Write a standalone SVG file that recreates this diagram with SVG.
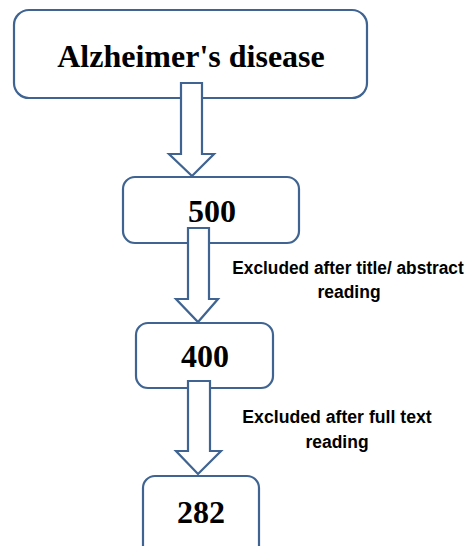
<svg xmlns="http://www.w3.org/2000/svg" width="472" height="546" viewBox="0 0 472 546">
<style>
.box{fill:#ffffff;stroke:#3f6491;stroke-width:2.2}
.arr{fill:#ffffff;stroke:#3f6491;stroke-width:2.2;stroke-linejoin:miter}
.num{font-family:"Liberation Serif","Times New Roman",serif;font-weight:bold;font-size:32px;fill:#000;text-anchor:middle}
.lbl{font-family:"Liberation Sans",Arial,sans-serif;font-weight:bold;font-size:19px;fill:#000;text-anchor:middle}
</style>
<rect width="472" height="546" fill="#ffffff"/>
<g id="node-alzheimer">
<rect class="box" x="14" y="10" width="353" height="88" rx="15"/>
<text class="num" x="191" y="67">Alzheimer's disease</text>
</g>
<g id="node-500">
<rect class="box" x="123" y="177" width="176" height="66" rx="12"/>
<text class="num" x="212" y="222">500</text>
</g>
<g id="node-400">
<rect class="box" x="136" y="323" width="137" height="65" rx="12"/>
<text class="num" x="205" y="367">400</text>
</g>
<g id="node-282">
<rect class="box" x="143" y="476" width="116" height="90" rx="12"/>
<text class="num" x="201" y="523">282</text>
</g>
<g id="connectors">
<path class="arr" d="M181,83 H202 V154 H214 L192,176 L169,154 H181 Z"/>
<path class="arr" d="M188,228 H209 V299 H218 L198,322 L176,299 H188 Z"/>
<path class="arr" d="M188,381 H210 V451 H221 L198,474 L176,451 H188 Z"/>
</g>
<g id="label-title-abstract">
<text class="lbl" transform="translate(348,274) scale(0.91,1)">Excluded after title/ abstract</text>
<text class="lbl" transform="translate(349,298) scale(0.92,1)">reading</text>
</g>
<g id="label-full-text">
<text class="lbl" transform="translate(337,423) scale(0.93,1)">Excluded after full text</text>
<text class="lbl" transform="translate(337,448) scale(0.92,1)">reading</text>
</g>
</svg>
